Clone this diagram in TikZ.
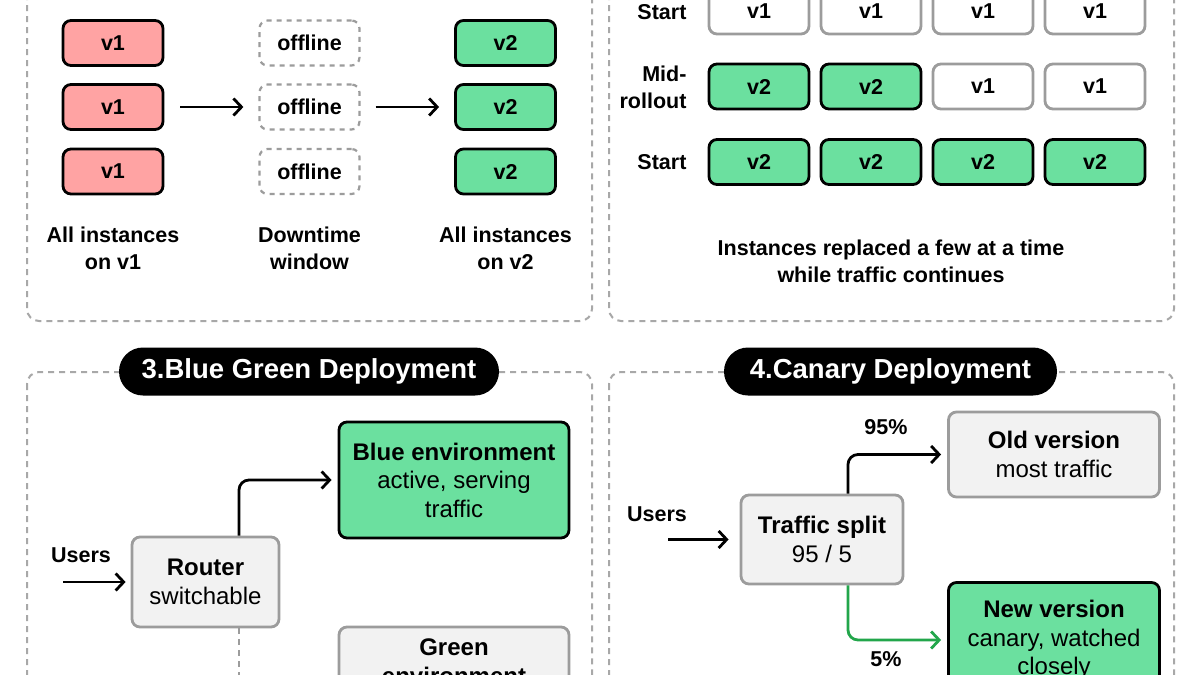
\documentclass[tikz,border=0pt]{standalone}
\usepackage{fontspec}
\setmainfont{Liberation Sans}
\usetikzlibrary{arrows.meta}
\definecolor{redfill}{HTML}{FFA3A3}
\definecolor{greenfill}{HTML}{6BE09F}
\definecolor{greyfill}{HTML}{F2F2F2}
\definecolor{greyline}{HTML}{9C9C9C}
\definecolor{paneline}{HTML}{A8A8A8}
\definecolor{greenline}{HTML}{22A64B}
\newcommand{\lblfont}{\bfseries\fontsize{21.5}{27}\selectfont}
\newcommand{\boxfont}{\fontsize{24}{28.5}\selectfont}
\newcommand{\pillfont}{\bfseries\fontsize{27.5}{31}\selectfont}

\begin{document}
\begin{tikzpicture}
[x=1pt,y=-1pt,
  panel/.style={draw=paneline,line width=2pt,dash pattern=on 6pt off 5pt,rounded corners=12pt},%
  pill/.style={fill=black,text=white,rounded corners=24pt,minimum height=48pt,inner xsep=0pt,font=\pillfont},%
  vbox/.style={rounded corners=8pt,line width=2.8pt,minimum width=100pt,minimum height=45pt,inner sep=0pt,font=\lblfont},%
  oldbox/.style={vbox,draw=black,fill=redfill},%
  newbox/.style={vbox,draw=black,fill=greenfill},%
  idlebox/.style={vbox,draw=greyline,fill=white},%
  offbox/.style={vbox,draw=greyline,line width=2.2pt,dash pattern=on 5pt off 5pt},%
  envbox/.style={rounded corners=8pt,line width=2.8pt,align=center,inner sep=0pt,font=\boxfont},%
  greybox/.style={envbox,draw=greyline,fill=greyfill},%
  greenbox/.style={envbox,draw=black,fill=greenfill},%
  caption/.style={align=center,font=\lblfont},%
  flow/.style={-{Straight Barb[length=8pt,width=17pt]},line width=2.8pt,rounded corners=10pt},%
  standby/.style={draw=greyline,line width=2.8pt,dash pattern=on 6pt off 5pt}]
\useasboundingbox (0,0) rectangle (1200,675);
\clip (0,0) rectangle (1200,675);
\fill[white] (0,0) rectangle (1200,675);

%% panels
\draw[panel] (27,-40) rectangle (592,321);
\draw[panel] (609,-40) rectangle (1174,321);
\draw[panel] (27,372) rectangle (592,720);
\draw[panel] (609,372) rectangle (1174,720);

%% 1. recreate: all old, offline, all new
\foreach \y [count=\i] in {43,107,171.5}
{
  \node[oldbox] (old\i) at (113,\y) {v1};
  \node[offbox] (off\i) at (309.5,\y) {offline};
  \node[newbox] (new\i) at (505.5,\y) {v2};
}
\draw[flow,shorten <=16pt,shorten >=15pt] (old2) -- (off2);
\draw[flow,shorten <=15pt,shorten >=15pt] (off2) -- (new2);
\node[caption] (oldlab) at (113,248.5) {All instances\\on v1};
\node[caption] (offlab) at (309.5,248.5) {Downtime\\window};
\node[caption] (newlab) at (505.5,248.5) {All instances\\on v2};

%% 2. rolling update
\node[caption,anchor=east] (startlab) at (690,12) {Start};
\node[caption,anchor=east,align=right] (midlab) at (690,87.5) {Mid-\\rollout};
\node[caption,anchor=east] (endlab) at (690,162) {Start};
\foreach \x [count=\i] in {759,871,983,1095}
{
  \node[idlebox] (start\i) at (\x,11.5) {v1};
  \node[newbox] (end\i) at (\x,162) {v2};
}
\foreach \x/\v/\s [count=\i] in {759/v2/newbox, 871/v2/newbox,
  983/v1/idlebox, 1095/v1/idlebox}
{
  \node[\s] (mid\i) at (\x,86.5) {\v};
}
\node[caption] (rollnote) at (891,261.5)
  {Instances replaced a few at a time\\while traffic continues};

%% 3. blue green
\node[pill,minimum width=380pt] (title3) at (309,371.5) {3.Blue Green Deployment};
\node[greenbox,minimum width=230pt,minimum height=116pt] (blueenv) at (454,480)
  {\textbf{Blue environment}\\active, serving\\traffic};
\node[greybox,minimum width=147pt,minimum height=90pt] (router) at (205.5,582)
  {\textbf{Router}\\switchable};
\node[greybox,minimum width=230pt,minimum height=116pt] (greenenv) at (454,685)
  {\textbf{Green}\\\textbf{environment}\\[18pt]};
\node[caption] (users3) at (81,555) {Users};
\coordinate (in3) at (63,582);
\coordinate (idle3) at (239,700);
\draw[flow,shorten >=5pt] (in3) -- (router);
\draw[flow,shorten >=6pt] ([xshift=33.5pt]router.north) |- (blueenv.west);
\draw[standby] ([xshift=33.5pt]router.south) -- (idle3);

%% 4. canary
\node[pill,minimum width=333pt] (title4) at (890.5,371.5) {4.Canary Deployment};
\node[greybox,minimum width=211pt,minimum height=85pt] (oldver) at (1054,454.5)
  {\textbf{Old version}\\most traffic};
\node[greybox,minimum width=162pt,minimum height=89pt] (split) at (822,539.5)
  {\textbf{Traffic split}\\95 / 5};
\node[greenbox,minimum width=211pt,minimum height=115pt] (newver) at (1054,640)
  {\textbf{New version}\\canary, watched\\closely};
\node[caption] (users4) at (657,514.5) {Users};
\coordinate (in4) at (668,539.5);
\draw[flow,shorten >=11pt] (in4) -- (split);
\draw[flow,shorten >=6pt] ([xshift=26pt]split.north) |- (oldver.west);
\draw[flow,draw=greenline,shorten >=6pt] ([xshift=26pt]split.south) |- (newver.west);
\node[caption] (bigshare) at (886,427) {95\%};
\node[caption] (smallshare) at (886,659) {5\%};
\end{tikzpicture}
\end{document}
